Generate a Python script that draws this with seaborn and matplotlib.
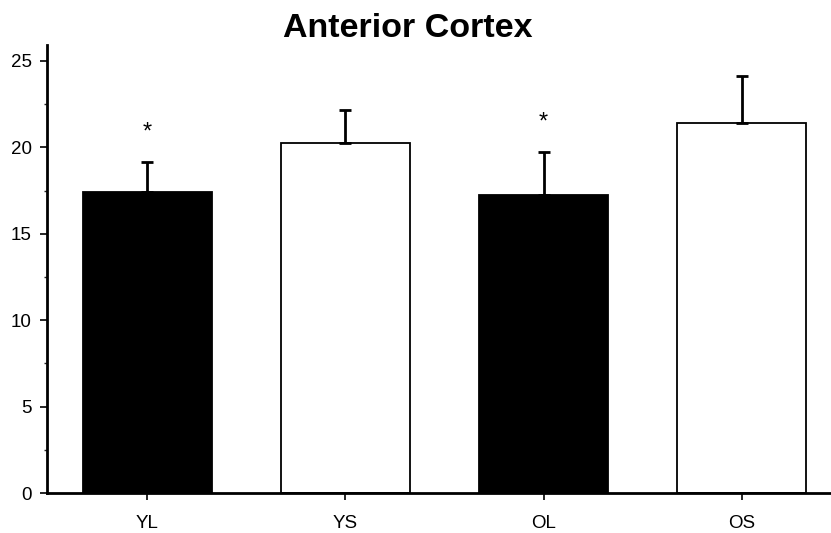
import numpy as np
import pandas as pd
import matplotlib
matplotlib.use("Agg")
import matplotlib.pyplot as plt
import seaborn as sns
from matplotlib.ticker import MultipleLocator

# Group means and standard errors
groups = ["YL", "YS", "OL", "OS"]
means = [17.4, 20.25, 17.25, 21.4]
sems = [1.75, 1.9, 2.5, 2.7]
fills = ["black", "white", "black", "white"]
significant = ["YL", "OL"]

sns.set_style("ticks")
plt.rcParams["font.family"] = ["Liberation Sans", "DejaVu Sans"]
plt.rcParams["text.color"] = "black"

df = pd.DataFrame({"group": groups, "mean": means, "sem": sems})

fig = plt.figure(figsize=(8.31, 5.33), dpi=100)
ax = fig.add_axes([0.0566, 0.075, 0.9434, 0.84])

sns.barplot(data=df, x="group", y="mean", hue="group", palette=fills,
            edgecolor="black", linewidth=1.3, width=0.65, errorbar=None,
            legend=False, ax=ax, zorder=2)

xpos = np.arange(len(groups))
ax.errorbar(xpos, df["mean"], yerr=[np.zeros(len(groups)), df["sem"]],
            fmt="none", ecolor="black", elinewidth=2, capsize=4.5, capthick=2,
            zorder=3)

for i, g in enumerate(groups):
    if g in significant:
        top = means[i] + sems[i]
        ax.text(i, top + 1.05, "*", ha="center", va="bottom", fontsize=17,
                color="black")

ax.set_xlim(-0.505, 3.45)
ax.set_ylim(0, 25.9)
ax.yaxis.set_major_locator(MultipleLocator(5))
ax.yaxis.set_minor_locator(MultipleLocator(2.5))
ax.tick_params(axis="both", which="major", direction="out", length=5,
               width=1.2, labelsize=13.5, colors="black")
ax.tick_params(axis="x", which="major", pad=11)
ax.tick_params(axis="y", which="major", pad=6)
ax.tick_params(axis="y", which="minor", direction="out", length=2.5, width=1)
ax.set_xlabel("")
ax.set_ylabel("")
for side in ("top", "right"):
    ax.spines[side].set_visible(False)
for side in ("left", "bottom"):
    ax.spines[side].set_linewidth(2)
    ax.spines[side].set_color("black")

fig.text(0.491, 0.93, "Anterior Cortex", ha="center", va="baseline",
         fontsize=24.5, fontweight="bold", color="black")

fig.savefig("out.png", dpi=100)
